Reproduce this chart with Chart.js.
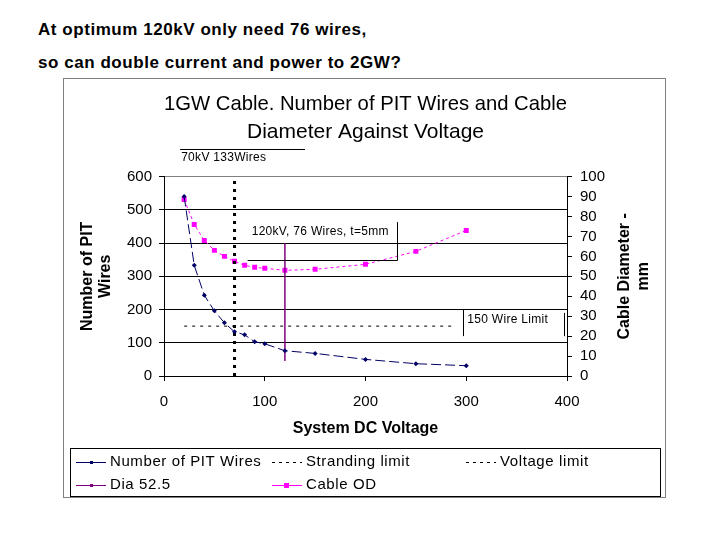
<!DOCTYPE html>
<html lang="en">
<head>
<meta charset="UTF-8" />
<title>1GW Cable - PIT Wires and Cable Diameter</title>
<style>
  body {
    margin: 0;
    padding: 0;
    background: #fff;
    font-family: "Liberation Sans", Arial, sans-serif;
  }

  .page {
    position: relative;
    width: 720px;
    height: 540px;
    overflow: hidden;
  }

  .note {
    position: absolute;
    left: 38px;
    font-size: 17px;
    font-weight: bold;
    letter-spacing: 0.55px;
    color: #000;
    white-space: nowrap;
  }

  .frame {
    position: absolute;
    left: 63px;
    top: 78px;
    width: 601px;
    height: 418px;
    border: 1px solid #808080;
  }

  #chart {
    position: absolute;
    left: 0;
    top: 0;
  }
</style>
<script src="https://cdn.jsdelivr.net/npm/chart.js"></script>
</head>
<body>
<div class="page">
  <div class="note" style="top:20px">At optimum 120kV only need 76 wires,</div>
  <div class="note" style="top:53px">so can double current and power to 2GW?</div>
  <div class="frame"></div>
  <canvas id="chart" width="720" height="540"></canvas>
</div>

<script>
// values
const voltage = [20, 30, 40, 50, 60, 70, 80, 90, 100, 120, 150, 200, 250, 300];
const pitWires = [540, 333, 243, 196, 160, 133, 124, 103, 97, 76, 68, 50, 37, 31];
const cableOD = [88.5, 76, 68, 63, 60, 57.5, 55.5, 54.5, 54, 53, 53.5, 56, 62.5, 73];

const strandingX = [20, 290];
const strandingY = [150, 150];
const voltageLimitX = [70, 70];
const voltageLimitY = [0, 600];
const diaX = [120, 120];
const diaY = [400, 45];

const FONT = '"Liberation Sans", Arial, sans-serif';

function pairs(xs, ys) {
  return xs.map((v, i) => ({ x: v, y: ys[i] }));
}

const datasets = [
  {
    label: 'Number of PIT Wires',
    data: pairs(voltage, pitWires),
    yAxisID: 'y',
    borderColor: '#000066',
    backgroundColor: '#000066',
    borderWidth: 1,
    borderDash: [10, 4],
    pointStyle: 'rectRot',
    pointRadius: 2.5,
    pointBorderWidth: 0
  },
  {
    label: 'Stranding limit',
    data: pairs(strandingX, strandingY),
    yAxisID: 'y',
    borderColor: '#000',
    borderWidth: 1,
    borderDash: [3, 5],
    pointRadius: 0
  },
  {
    label: 'Voltage limit',
    data: pairs(voltageLimitX, voltageLimitY),
    yAxisID: 'y',
    borderColor: '#000',
    borderWidth: 3,
    borderDash: [3, 5],
    pointRadius: 0
  },
  {
    label: 'Dia 52.5',
    data: pairs(diaX, diaY),
    yAxisID: 'y',
    borderColor: '#800080',
    backgroundColor: '#800080',
    borderWidth: 1.5,
    pointRadius: 0
  },
  {
    label: 'Cable OD',
    data: pairs(voltage, cableOD),
    yAxisID: 'y2',
    borderColor: '#ff00ff',
    backgroundColor: '#ff00ff',
    borderWidth: 1,
    borderDash: [3, 3],
    pointStyle: 'rect',
    pointRadius: 3.5,
    pointBorderWidth: 0
  }
];

// text boxes inside the plot + right axis title
const notesPlugin = {
  id: 'notes',
  afterDatasetsDraw(chart) {
    const { ctx, chartArea, scales: { x, y } } = chart;
    ctx.save();
    ctx.strokeStyle = '#000';
    ctx.fillStyle = '#000';
    ctx.lineWidth = 1;
    ctx.font = '12px ' + FONT;
    ctx.letterSpacing = '0.3px';
    ctx.textBaseline = 'middle';
    ctx.textAlign = 'left';

    // 70kV 133Wires (above plot)
    const lineY = Math.round(chartArea.top - 28) + 0.5;
    ctx.beginPath();
    ctx.moveTo(x.getPixelForValue(16), lineY);
    ctx.lineTo(x.getPixelForValue(140), lineY);
    ctx.stroke();
    ctx.fillText('70kV 133Wires', x.getPixelForValue(17), chartArea.top - 19);

    // 120kV callout
    const bx1 = x.getPixelForValue(83), bx2 = Math.round(x.getPixelForValue(231)) + 0.5;
    const by1 = y.getPixelForValue(463), by2 = Math.round(y.getPixelForValue(350)) + 0.5;
    ctx.fillText('120kV, 76 Wires, t=5mm', x.getPixelForValue(87), y.getPixelForValue(434));
    ctx.beginPath();
    ctx.moveTo(bx2, by1);
    ctx.lineTo(bx2, by2);
    ctx.lineTo(bx1, by2);
    ctx.stroke();

    // 150 Wire Limit box
    const wx1 = Math.round(x.getPixelForValue(297)) + 0.5, wx2 = Math.round(x.getPixelForValue(397)) + 0.5;
    ctx.fillStyle = '#fff';
    ctx.fillRect(wx1, y.getPixelForValue(198), wx2 - wx1, y.getPixelForValue(122) - y.getPixelForValue(198));
    ctx.fillStyle = '#000';
    ctx.beginPath();
    ctx.moveTo(wx1, y.getPixelForValue(200));
    ctx.lineTo(wx1, y.getPixelForValue(120));
    ctx.moveTo(wx2, y.getPixelForValue(190));
    ctx.lineTo(wx2, y.getPixelForValue(120));
    ctx.stroke();
    ctx.fillText('150 Wire Limit', x.getPixelForValue(301), y.getPixelForValue(169));

    // right axis title, reads bottom to top
    ctx.font = 'bold 16px ' + FONT;
    ctx.letterSpacing = '0px';
    ctx.textAlign = 'center';
    const midY = (chartArea.top + chartArea.bottom) / 2;
    ctx.translate(625, midY);
    ctx.rotate(-Math.PI / 2);
    ctx.fillText('Cable Diameter -', 0, 0);
    ctx.fillText('mm', 0, 19);
    ctx.restore();
  }
};

// excel-style legend box drawn in columns
const legendPlugin = {
  id: 'boxLegend',
  afterDraw(chart) {
    const { ctx } = chart;
    const sets = chart.data.datasets;
    const cols = [76, 272, 466];
    const rows = [462, 485];
    const items = [[0, 0, 0], [1, 1, 0], [2, 2, 0], [3, 0, 1], [4, 1, 1]];
    ctx.save();
    ctx.strokeStyle = '#000';
    ctx.lineWidth = 1;
    ctx.strokeRect(70.5, 448.5, 590, 48);
    ctx.font = '15px ' + FONT;
    ctx.letterSpacing = '0.6px';
    ctx.textBaseline = 'middle';
    ctx.textAlign = 'left';
    items.forEach(([i, c, r]) => {
      const ds = sets[i];
      const x0 = cols[c], yy = rows[r] + 0.5;
      ctx.strokeStyle = ds.borderColor;
      ctx.lineWidth = 1;
      ctx.setLineDash(i === 1 || i === 2 ? [3, 4] : []);
      ctx.beginPath();
      ctx.moveTo(x0, yy);
      ctx.lineTo(x0 + 30, yy);
      ctx.stroke();
      ctx.setLineDash([]);
      ctx.fillStyle = ds.borderColor;
      if (i === 0 || i === 3) {
        ctx.fillRect(x0 + 14, yy - 1.5, 3, 3);
      } else if (i === 4) {
        ctx.fillRect(x0 + 12, yy - 2.5, 5, 5);
      }
      ctx.fillStyle = '#000';
      ctx.fillText(ds.label, x0 + 34, rows[r]);
    });
    ctx.restore();
  }
};

const tickFont = { family: FONT, size: 15 };
const titleFont = { family: FONT, size: 16, weight: 'bold', lineHeight: 1.15 };

new Chart(document.getElementById('chart'), {
  type: 'line',
  data: { datasets: datasets },
  options: {
    responsive: false,
    animation: false,
    layout: { padding: { left: 70, right: 0, top: 79, bottom: 95 } },
    elements: { line: { tension: 0 } },
    plugins: {
      legend: { display: false },
      tooltip: { enabled: false },
      title: {
        display: true,
        fullSize: false,
        text: ['1GW Cable. Number of PIT Wires and Cable', 'Diameter Against Voltage'],
        color: '#000',
        font: { family: FONT, size: 21, weight: 'normal', lineHeight: 1.3 },
        padding: { top: 12, bottom: 31 }
      }
    },
    scales: {
      x: {
        type: 'linear',
        position: 'bottom',
        min: 0,
        max: 400,
        ticks: { stepSize: 100, color: '#000', font: tickFont, padding: 12 },
        grid: { drawOnChartArea: false, color: '#000', tickLength: 5 },
        border: { color: '#000' },
        title: { display: true, text: 'System DC Voltage', color: '#000', font: titleFont, padding: { top: 0, bottom: 7 } },
        afterFit: s => { s.height = 69; }
      },
      y: {
        position: 'left',
        min: 0,
        max: 600,
        ticks: { stepSize: 100, color: '#000', font: tickFont, padding: 7 },
        grid: {
          color: c => (c.tick && c.tick.value === 600 ? '#808080' : '#000'),
          tickColor: '#000',
          tickLength: 5
        },
        border: { color: '#000' },
        title: { display: true, text: ['Number of PIT', 'Wires'], color: '#000', font: titleFont, padding: { top: 8, bottom: 0 } },
        afterFit: s => { s.width = 94; }
      },
      y2: {
        position: 'right',
        min: 0,
        max: 100,
        ticks: { stepSize: 10, autoSkip: false, color: '#000', font: tickFont, padding: 8 },
        grid: { drawOnChartArea: false, color: '#000', tickLength: 5 },
        border: { color: '#000' },
        afterFit: s => { s.width = 153; }
      }
    }
  },
  plugins: [notesPlugin, legendPlugin]
});
</script>
</body>
</html>
